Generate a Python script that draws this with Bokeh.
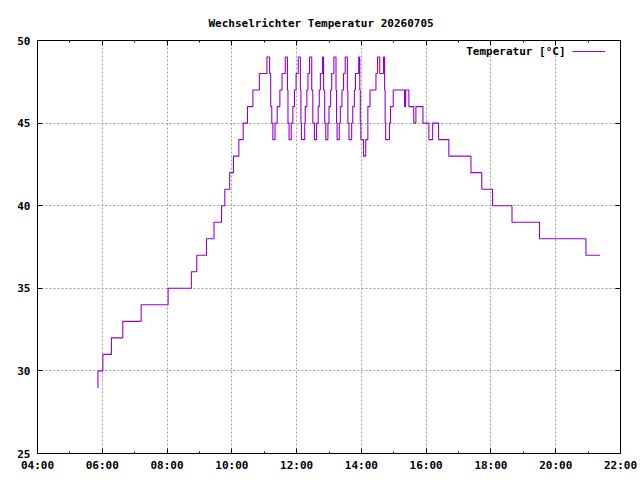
from bokeh.plotting import figure
from bokeh.models import (ColumnDataSource, FixedTicker, LinearAxis, Legend,
                          LegendItem, Label, Range1d, Title, CustomJSTickFormatter)
from bokeh.core.properties import value
from bokeh.embed import file_html
from bokeh.resources import INLINE

# ---- data ----
times = ["05:51", "05:52", "06:01", "06:17", "06:38", "07:12", "08:02", "08:45", "08:55", "09:13",
         "09:27", "09:41", "09:47", "09:56", "10:03", "10:13", "10:21", "10:29", "10:39", "10:51", "11:05",
         "11:10", "11:12", "11:14", "11:16",
         "11:20", "11:24", "11:29", "11:33", "11:39",
         "11:43", "11:44", "11:46",
         "11:50", "11:53", "11:56", "11:59", "12:03",
         "12:07", "12:08", "12:09",
         "12:15", "12:16", "12:19", "12:21", "12:24",
         "12:28", "12:30", "12:33",
         "12:37", "12:40", "12:42", "12:44", "12:48",
         "12:50", "12:52", "12:54",
         "12:58", "13:00", "13:03", "13:05", "13:09",
         "13:13", "13:14", "13:15",
         "13:19", "13:21", "13:24", "13:27", "13:30",
         "13:34", "13:35", "13:37",
         "13:42", "13:44", "13:47", "13:49", "13:55",
         "13:57", "13:58", "13:59",
         "14:04", "14:08", "14:12", "14:16", "14:27", "14:30", "14:34", "14:41",
         "14:43", "14:44", "14:45",
         "14:52", "14:54", "14:59", "15:20", "15:22", "15:28", "15:37", "15:41", "15:54", "16:05",
         "16:12", "16:23", "16:42", "17:23", "17:43", "18:03", "18:39", "19:30", "20:56", "21:22"]

temps = [29, 30, 31, 32, 33, 34, 35, 36, 37, 38, 39, 40, 41, 42, 43, 44, 45, 46, 47, 48, 49,
         48, 46, 45, 44,
         45, 46, 47, 48, 49,
         47, 45, 44,
         45, 46, 47, 48, 49,
         47, 45, 44,
         45, 46, 47, 48, 49,
         47, 45, 44,
         45, 46, 47, 48, 49,
         47, 45, 44,
         45, 46, 47, 48, 49,
         47, 45, 44,
         45, 46, 47, 48, 49,
         47, 45, 44,
         45, 46, 47, 48, 49,
         47, 45, 44,
         43, 44, 46, 47, 48, 49, 48, 49,
         47, 45, 44,
         45, 46, 47, 46, 47, 46, 45, 46, 45, 44, 45, 44, 43, 42, 41, 40, 39, 38, 37, 37]

x_tick_labels = ["04:00", "06:00", "08:00", "10:00", "12:00", "14:00", "16:00", "18:00", "20:00", "22:00"]
y_ticks = [25, 30, 35, 40, 45, 50]
title_text = "Wechselrichter Temperatur 20260705"
series_name = "Temperatur [°C]"


def to_hours(s):
    h, m = s.split(":")
    return int(h) + int(m) / 60.0


x_major = [to_hours(s) for s in x_tick_labels]
x_major_int = [int(v) for v in x_major]
x_minor = [v + 1 for v in x_major_int[:-1]]

FONT = "DejaVu Sans Mono"
FS = "11px"
PURPLE = "#9400d3"

source = ColumnDataSource(data=dict(t=[to_hours(s) for s in times], v=temps))

p = figure(frame_width=583, frame_height=413,
           min_border_left=37, min_border_right=20, min_border_top=40, min_border_bottom=27,
           x_range=Range1d(4, 22), y_range=Range1d(25, 50),
           output_backend="svg", toolbar_location=None,
           background_fill_color="white", border_fill_color="white")
p.outline_line_color = "black"
p.outline_line_width = 1

r = p.step(x="t", y="v", source=source, mode="after", line_color=PURPLE, line_width=1.1)

xt = FixedTicker(ticks=x_major_int, minor_ticks=x_minor)
yt = FixedTicker(ticks=y_ticks, minor_ticks=[])

for ax in p.xaxis:
    ax.ticker = xt
    ax.major_label_overrides = {k: lab for k, lab in zip(x_major_int, x_tick_labels)}
for ax in p.yaxis:
    ax.ticker = yt

for ax in list(p.xaxis) + list(p.yaxis):
    ax.axis_line_color = "black"
    ax.major_tick_in = 5
    ax.major_tick_out = 0
    ax.minor_tick_in = 2
    ax.minor_tick_out = 0
    ax.major_label_text_font = FONT
    ax.major_label_text_font_size = FS
    ax.major_label_text_font_style = "bold"
    ax.major_label_text_color = "black"
for ax in p.xaxis:
    ax.major_label_standoff = 5
for ax in p.yaxis:
    ax.major_label_standoff = 7

# mirrored axes (ticks only, no labels)
blank = CustomJSTickFormatter(code="return ''")
top = LinearAxis(ticker=xt, formatter=blank, major_tick_in=5, major_tick_out=0,
                 minor_tick_in=2, minor_tick_out=0, major_label_text_font_size="1px",
                 major_label_standoff=0, axis_line_color="black")
right = LinearAxis(ticker=yt, formatter=blank, major_tick_in=5, major_tick_out=0,
                   minor_tick_in=0, minor_tick_out=0, major_label_text_font_size="1px",
                   major_label_standoff=0, axis_line_color="black")
p.add_layout(top, "above")
p.add_layout(right, "right")

p.add_layout(Title(text=title_text, align="left", offset=171, standoff=21,
                   text_font=FONT, text_font_size=FS, text_font_style="bold",
                   text_color="black"), "above")

# grid
p.xgrid.ticker = FixedTicker(ticks=x_major_int[1:-1])
p.ygrid.ticker = FixedTicker(ticks=y_ticks[1:-1])
p.grid.grid_line_color = "#a0a0a0"
p.grid.grid_line_dash = "2 2"
p.grid.grid_line_width = 1

# legend: text on the left, line sample on the right (gnuplot style)
legend = Legend(items=[LegendItem(label=value(""), renderers=[r])],
                location=(535, 397), padding=0, margin=0, spacing=0,
                glyph_width=33, glyph_height=10, label_width=0, label_height=10,
                label_standoff=0, label_text_font_size="1px",
                border_line_color=None, background_fill_alpha=0)
p.add_layout(legend, "center")
p.add_layout(Label(x=528, y=402, x_units="screen", y_units="screen", text=series_name,
                   text_align="right", text_baseline="middle",
                   text_font=FONT, text_font_size=FS, text_font_style="bold",
                   text_color="black"))

open("out.html", "w").write(file_html(p, INLINE))
